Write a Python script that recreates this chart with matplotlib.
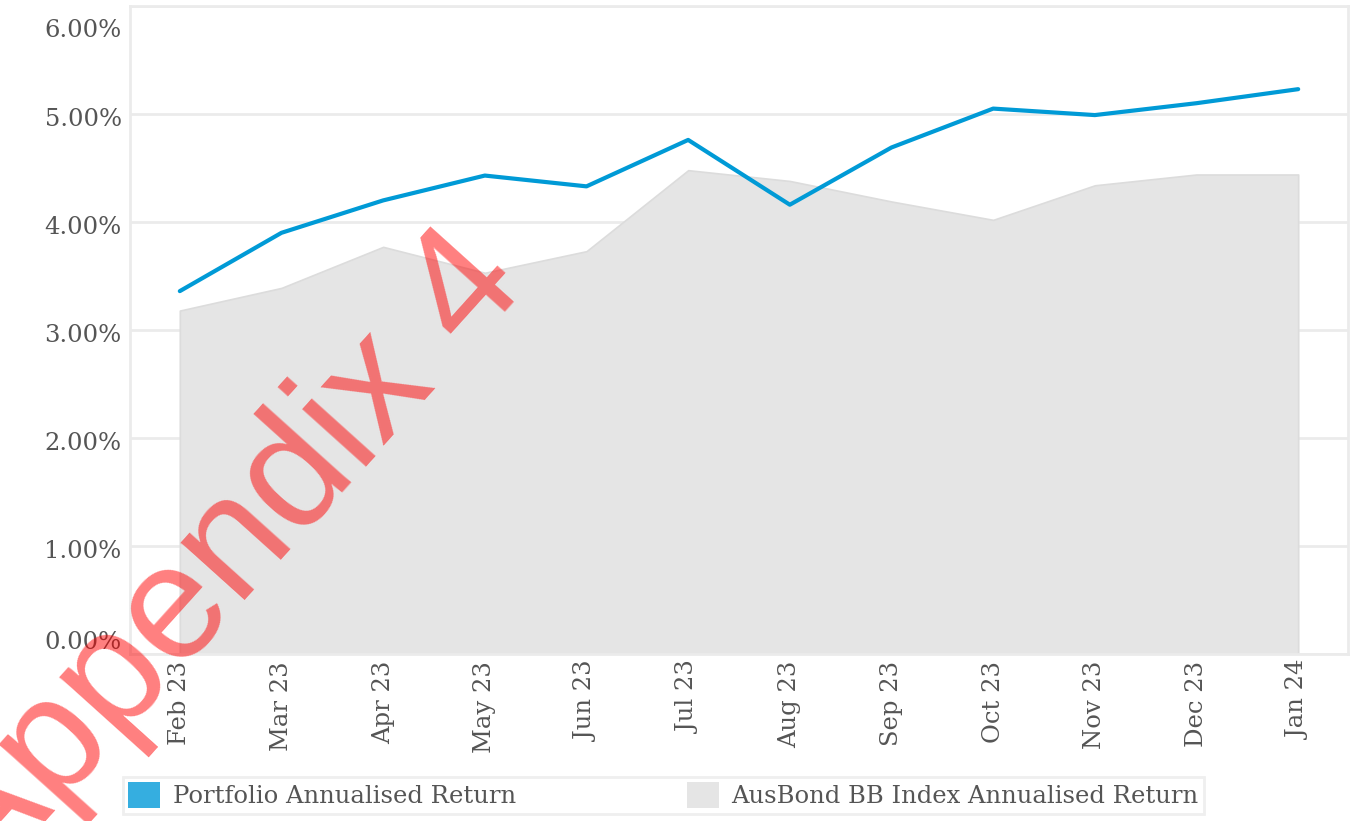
import matplotlib
matplotlib.use("Agg")
import matplotlib.pyplot as plt
import matplotlib.transforms as mtransforms
from matplotlib.patches import Patch
from matplotlib.ticker import FuncFormatter

months = ["Feb 23", "Mar 23", "Apr 23", "May 23", "Jun 23", "Jul 23",
          "Aug 23", "Sep 23", "Oct 23", "Nov 23", "Dec 23", "Jan 24"]
portfolio = [3.36, 3.90, 4.20, 4.43, 4.33, 4.76, 4.16, 4.69, 5.05, 4.99, 5.10, 5.23]
ausbond = [3.18, 3.39, 3.77, 3.53, 3.73, 4.48, 4.38, 4.19, 4.02, 4.34, 4.44, 4.44]
yticks = [0, 1, 2, 3, 4, 5, 6]
series_names = ["Portfolio Annualised Return", "AusBond BB Index Annualised Return"]
watermark = "Appendix 4"

W, H = 1363, 821
fig = plt.figure(figsize=(W / 100, H / 100), dpi=100)
ax = fig.add_axes([130 / W, 1 - 654 / H, (1348 - 130) / W, (654 - 6) / H])

FONT = "DejaVu Serif"
FS = 17.5
TXT = "#555555"
GRID = "#ebebeb"

x = list(range(len(months)))
ax.fill_between(x, 0, ausbond, color="#e5e5e5", edgecolor="#dcdcdc", linewidth=1.2, zorder=2)
ax.plot(x, portfolio, color="#009ad6", linewidth=3, solid_capstyle="round", zorder=3)

ax.set_xlim(-0.49, len(months) - 1 + 0.49)
ax.set_ylim(0, 6)
ax.set_yticks(yticks)
ax.yaxis.set_major_formatter(FuncFormatter(lambda v, p: f"{v:.2f}%"))
ax.set_xticks(x)
ax.set_xticklabels(months, rotation=90, ha="center", va="top")
ax.grid(axis="y", color=GRID, linewidth=2, zorder=1)
ax.set_axisbelow(True)
for s in ax.spines.values():
    s.set_color(GRID)
    s.set_linewidth(2)
ax.tick_params(axis="both", length=0, colors=TXT, labelsize=FS)
ax.tick_params(axis="y", pad=6)
ax.tick_params(axis="x", pad=5)
for lab in ax.get_xticklabels() + ax.get_yticklabels():
    lab.set_fontfamily(FONT)

ylabs = ax.get_yticklabels()
for i, lab in enumerate(ylabs):
    dy = -3
    if i == 0:
        lab.set_verticalalignment("bottom")
        dy = 0
    elif i == len(ylabs) - 1:
        lab.set_verticalalignment("top")
        dy = -13
    lab.set_transform(lab.get_transform() +
                      mtransforms.ScaledTranslation(0, dy / 100, fig.dpi_scale_trans))

handles = [Patch(facecolor="#35aee0", edgecolor="none"),
           Patch(facecolor="#e5e5e5", edgecolor="none")]
leg = fig.legend(handles, series_names, loc="upper left",
                 bbox_to_anchor=(123 / W, 1 - 777 / H), ncol=2,
                 prop={"family": FONT, "size": FS}, labelcolor=TXT,
                 handlelength=1.32, handleheight=1.23, handletextpad=0.53,
                 columnspacing=7.0, borderpad=0.22, borderaxespad=0,
                 frameon=True, fancybox=False)
leg.get_frame().set_edgecolor(GRID)
leg.get_frame().set_linewidth(2)

fig.text(-16 / W, 1 - 890 / H, watermark, rotation=48, rotation_mode="anchor",
         ha="left", va="baseline", fontsize=117, color="red", alpha=0.5,
         family="Liberation Sans", zorder=10)

fig.savefig("out.png", dpi=100)
